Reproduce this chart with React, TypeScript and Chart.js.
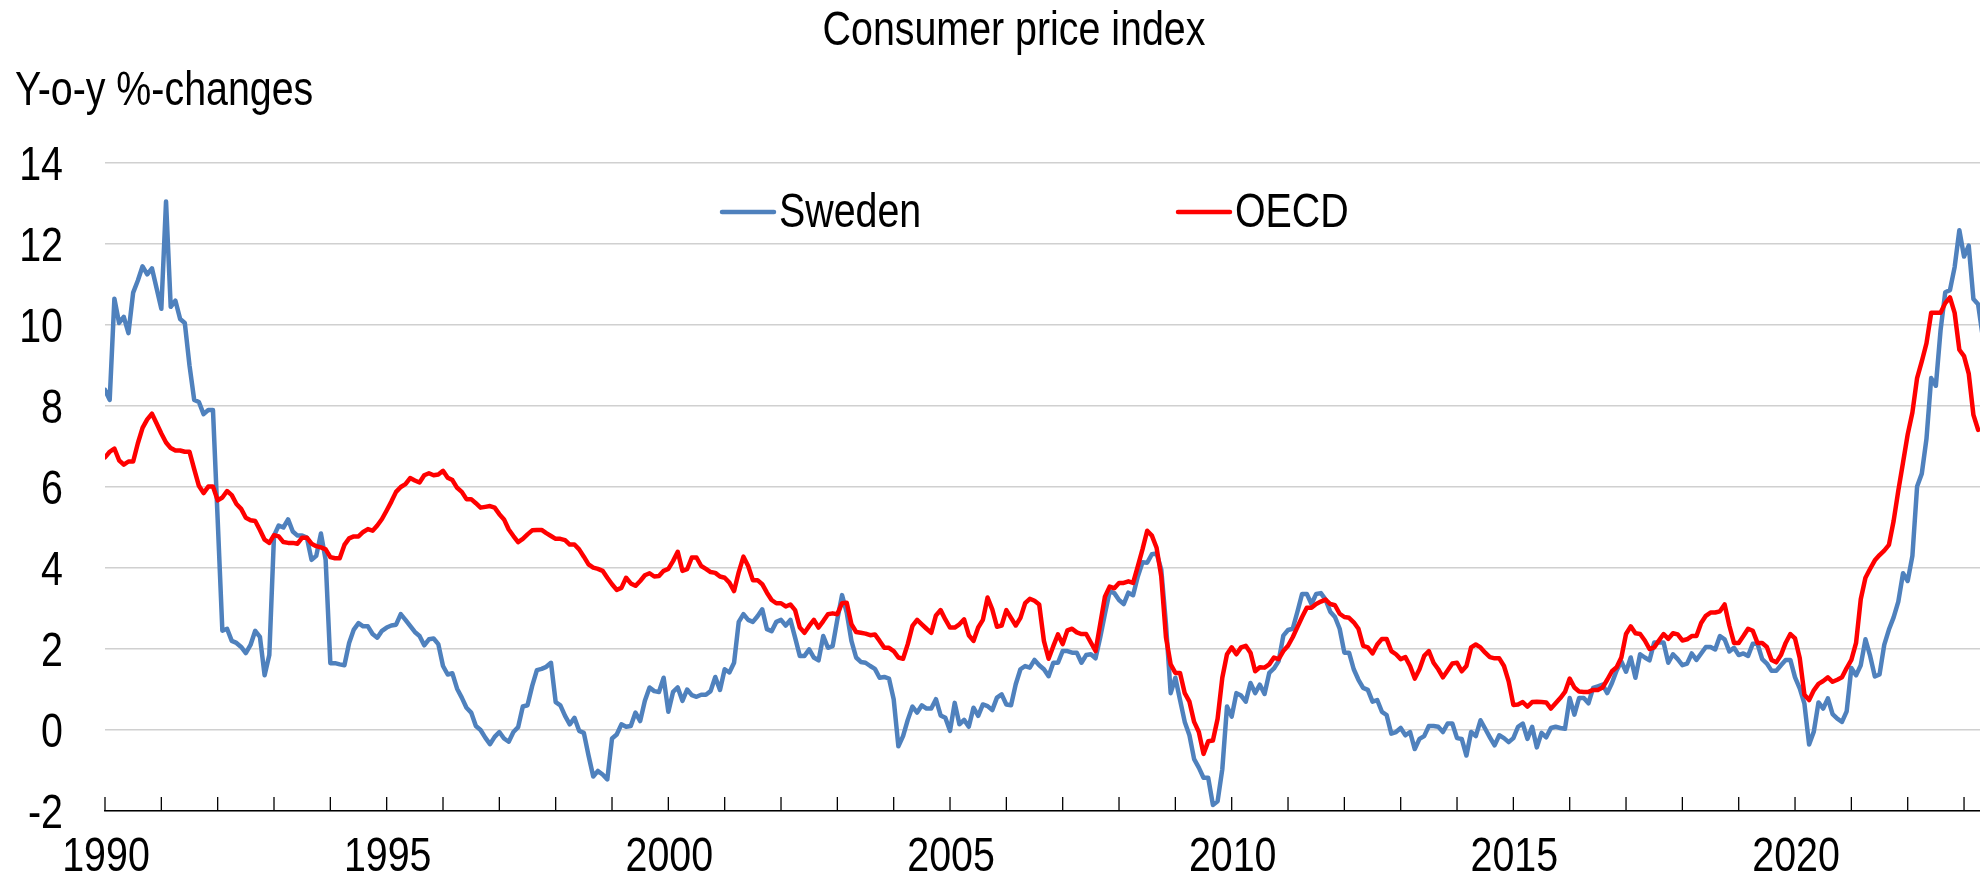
import { useEffect, useRef } from "react";
import { Chart, registerables } from "chart.js";

Chart.register(...registerables);

// ---- Data (monthly y-o-y % changes from Jan 1990) ----
const FIRST_YEAR = 1990;

const sweden1990s = [
  8.4, 8.15, 10.65, 10.05, 10.2, 9.8, 10.8, 11.1, 11.45, 11.25, 11.4, 10.9,
  10.4, 13.05, 10.45, 10.6, 10.15, 10.05, 9.0, 8.15, 8.1, 7.8, 7.9, 7.9,
  5.2, 2.45, 2.5, 2.2, 2.15, 2.05, 1.9, 2.1, 2.45, 2.3, 1.35, 1.85,
  4.8, 5.05, 5.0, 5.2, 4.9, 4.8, 4.8, 4.75, 4.2, 4.3, 4.85, 4.2,
  1.65, 1.65, 1.62, 1.6, 2.15, 2.48, 2.64, 2.56, 2.56, 2.37, 2.28, 2.45,
  2.53, 2.58, 2.6, 2.86, 2.72, 2.57, 2.42, 2.32, 2.09, 2.24, 2.26, 2.12,
  1.58, 1.37, 1.4, 1.02, 0.8, 0.55, 0.43, 0.1, 0.0, -0.19, -0.35, -0.17,
  -0.05, -0.21, -0.29, -0.05, 0.07, 0.58, 0.61, 1.09, 1.48, 1.51, 1.56, 1.66,
  0.69, 0.61, 0.35, 0.14, 0.3, -0.02, -0.07, -0.63, -1.15, -1.01, -1.1, -1.22,
  -0.21, -0.11, 0.14, 0.08, 0.1, 0.43, 0.22, 0.72, 1.05, 0.96, 0.94, 1.29,
];
const sweden2000s = [
  0.45, 0.94, 1.05, 0.72, 1.0, 0.86, 0.82, 0.87, 0.87, 0.96, 1.31, 0.99,
  1.5, 1.42, 1.66, 2.67, 2.86, 2.72, 2.67, 2.81, 2.98, 2.49, 2.44, 2.67,
  2.72, 2.58, 2.72, 2.28, 1.83, 1.83, 1.99, 1.79, 1.72, 2.32, 2.03, 2.07,
  2.73, 3.33, 2.9, 2.2, 1.79, 1.68, 1.66, 1.58, 1.51, 1.29, 1.31, 1.27,
  0.76, -0.4, -0.15, 0.25, 0.58, 0.43, 0.61, 0.53, 0.53, 0.76, 0.36, 0.3,
  -0.02, 0.67, 0.14, 0.25, 0.08, 0.55, 0.35, 0.63, 0.59, 0.49, 0.8, 0.88,
  0.63, 0.61, 1.13, 1.5, 1.58, 1.54, 1.73, 1.6, 1.5, 1.33, 1.66, 1.66,
  1.95, 1.95, 1.91, 1.91, 1.66, 1.85, 1.87, 1.77, 2.29, 2.87, 3.42, 3.38,
  3.21, 3.11, 3.39, 3.33, 3.79, 4.14, 4.13, 4.34, 4.36, 3.96, 2.62, 0.91,
  1.29, 0.74, 0.2, -0.13, -0.72, -0.93, -1.18, -1.18, -1.85, -1.76, -0.97, 0.58,
];
const sweden2010s = [
  0.33, 0.91, 0.85, 0.7, 1.16, 0.91, 1.12, 0.89, 1.41, 1.52, 1.7, 2.33,
  2.47, 2.5, 2.92, 3.36, 3.36, 3.11, 3.36, 3.38, 3.22, 2.92, 2.79, 2.5,
  1.91, 1.91, 1.5, 1.24, 1.04, 0.99, 0.7, 0.74, 0.45, 0.37, -0.09, -0.05,
  0.05, -0.13, -0.05, -0.47, -0.22, -0.15, 0.1, 0.1, 0.08, -0.05, 0.16, 0.16,
  -0.2, -0.22, -0.63, -0.05, -0.15, 0.24, 0.03, -0.18, -0.38, -0.13, -0.2, -0.3,
  -0.2, 0.08, 0.16, -0.22, 0.08, -0.43, -0.07, -0.18, 0.05, 0.08, 0.05, 0.03,
  0.79, 0.38, 0.79, 0.79, 0.66, 1.04, 1.08, 1.12, 0.91, 1.16, 1.47, 1.69,
  1.44, 1.79, 1.29, 1.87, 1.79, 1.72, 2.16, 2.16, 2.16, 1.66, 1.87, 1.75,
  1.6, 1.64, 1.89, 1.73, 1.89, 2.05, 2.05, 1.99, 2.32, 2.24, 1.94, 2.03,
  1.85, 1.89, 1.83, 2.13, 2.13, 1.75, 1.64, 1.46, 1.46, 1.6, 1.73, 1.73,
];
const sweden2020s = [
  1.3, 1.03, 0.65, -0.36, -0.04, 0.68, 0.53, 0.78, 0.39, 0.28, 0.2, 0.46,
  1.53, 1.35, 1.6, 2.24, 1.83, 1.32, 1.37, 2.1, 2.48, 2.78, 3.17, 3.87,
  3.68, 4.3, 6.01, 6.33, 7.19, 8.69, 8.5, 9.87, 10.81, 10.86, 11.43, 12.34,
  11.69, 11.96, 10.64, 10.51, 9.7,
];

const oecd1990s = [
  6.73, 6.87, 6.95, 6.66, 6.55, 6.63, 6.63, 7.08, 7.46, 7.67, 7.81, 7.57,
  7.32, 7.1, 6.96, 6.9, 6.9, 6.87, 6.87, 6.44, 6.03, 5.85, 6.01, 6.01,
  5.67, 5.74, 5.9, 5.8, 5.58, 5.46, 5.24, 5.18, 5.16, 4.94, 4.7, 4.62,
  4.81, 4.78, 4.64, 4.62, 4.62, 4.6, 4.75, 4.75, 4.6, 4.54, 4.51, 4.46,
  4.27, 4.24, 4.24, 4.57, 4.73, 4.78, 4.78, 4.89, 4.96, 4.92, 5.05, 5.21,
  5.42, 5.64, 5.88, 6.0, 6.07, 6.22, 6.16, 6.11, 6.29, 6.34, 6.29, 6.31,
  6.4, 6.23, 6.17, 5.98, 5.88, 5.7, 5.7, 5.6, 5.49, 5.51, 5.53, 5.49,
  5.33, 5.2, 4.95, 4.79, 4.64, 4.72, 4.83, 4.93, 4.94, 4.94, 4.86, 4.79,
  4.72, 4.72, 4.69, 4.58, 4.58, 4.46, 4.28, 4.09, 4.01, 3.98, 3.93, 3.76,
  3.6, 3.46, 3.51, 3.76, 3.62, 3.56, 3.68, 3.82, 3.87, 3.79, 3.8, 3.93,
];
const oecd2000s = [
  3.98, 4.17, 4.4, 3.93, 3.97, 4.26, 4.26, 4.05, 3.98, 3.9, 3.88, 3.79,
  3.76, 3.64, 3.43, 3.9, 4.28, 4.05, 3.7, 3.7, 3.6, 3.39, 3.21, 3.13,
  3.13, 3.05, 3.1, 2.96, 2.53, 2.4, 2.57, 2.72, 2.53, 2.69, 2.86, 2.88,
  2.86, 3.13, 3.14, 2.61, 2.42, 2.4, 2.38, 2.34, 2.36, 2.2, 2.03, 2.03,
  1.95, 1.79, 1.76, 2.12, 2.57, 2.72, 2.61, 2.5, 2.4, 2.83, 2.96, 2.73,
  2.53, 2.53, 2.61, 2.73, 2.34, 2.2, 2.53, 2.72, 3.27, 2.98, 2.55, 2.58,
  2.96, 2.77, 2.58, 2.77, 3.13, 3.24, 3.19, 3.1, 2.2, 1.76, 2.07, 2.36,
  2.12, 2.46, 2.5, 2.41, 2.37, 2.37, 2.16, 1.95, 2.62, 3.29, 3.54, 3.5,
  3.63, 3.63, 3.67, 3.63, 4.04, 4.46, 4.92, 4.8, 4.5, 3.79, 2.29, 1.62,
  1.41, 1.41, 0.91, 0.7, 0.2, -0.05, -0.59, -0.28, -0.26, 0.28, 1.29, 1.87,
];
const oecd2010s = [
  2.04, 1.87, 2.04, 2.08, 1.91, 1.45, 1.55, 1.54, 1.62, 1.79, 1.75, 1.95,
  2.08, 2.29, 2.54, 2.79, 3.02, 3.02, 3.11, 3.17, 3.22, 3.11, 3.08, 2.87,
  2.79, 2.77, 2.66, 2.5, 2.08, 2.04, 1.89, 2.11, 2.25, 2.25, 1.95, 1.87,
  1.75, 1.8, 1.58, 1.27, 1.5, 1.83, 1.95, 1.66, 1.5, 1.3, 1.47, 1.64,
  1.66, 1.45, 1.58, 2.04, 2.11, 2.04, 1.91, 1.8, 1.77, 1.77, 1.58, 1.2,
  0.62, 0.63, 0.69, 0.58, 0.69, 0.7, 0.69, 0.68, 0.53, 0.66, 0.79, 0.94,
  1.27, 1.05, 0.95, 0.94, 0.94, 0.99, 0.99, 1.05, 1.24, 1.45, 1.55, 1.79,
  2.37, 2.56, 2.39, 2.37, 2.21, 2.0, 2.04, 2.21, 2.37, 2.25, 2.39, 2.36,
  2.21, 2.24, 2.32, 2.32, 2.64, 2.82, 2.9, 2.9, 2.93, 3.1, 2.58, 2.15,
  2.15, 2.32, 2.5, 2.45, 2.15, 2.15, 2.05, 1.73, 1.67, 1.85, 2.15, 2.37,
];
const oecd2020s = [
  2.26, 1.78, 0.87, 0.74, 0.98, 1.14, 1.21, 1.3, 1.19, 1.24, 1.3, 1.53,
  1.73, 2.15, 3.23, 3.76, 3.98, 4.19, 4.32, 4.43, 4.57, 5.16, 5.91, 6.6,
  7.3, 7.84, 8.69, 9.1, 9.55, 10.3, 10.3, 10.3, 10.54, 10.68, 10.3, 9.39,
  9.23, 8.8, 7.78, 7.41,
];

const swedenValues = [...sweden1990s, ...sweden2000s, ...sweden2010s, ...sweden2020s];
const oecdValues = [...oecd1990s, ...oecd2000s, ...oecd2010s, ...oecd2020s];

const labelYears = [1990, 1995, 2000, 2005, 2010, 2015, 2020];
const tickYears = [
  1990, 1991, 1992, 1993, 1994, 1995, 1996, 1997, 1998, 1999, 2000, 2001,
  2002, 2003, 2004, 2005, 2006, 2007, 2008, 2009, 2010, 2011, 2012, 2013,
  2014, 2015, 2016, 2017, 2018, 2019, 2020, 2021, 2022, 2023,
];
const yTickValues = [-2, 0, 2, 4, 6, 8, 10, 12, 14];

const TITLE = "Consumer price index";
const Y_TITLE = "Y-o-y %-changes";
const SERIES_NAMES = ["Sweden", "OECD"];
const SERIES_COLORS = ["#4f81bd", "#ff0000"];

// Arial-metric font, horizontally condensed to imitate Arial Narrow
const FONT = "'Liberation Sans', Arial, sans-serif";
const FONT_SIZE = 48;
const NARROW = 0.82;
const W = 1980;
const H = 876;
const PLOT_TOP = 163;
const PLOT_BOTTOM = 811;
const PLOT_LEFT = 105;

const monthIndex = (yr: number) => (yr - FIRST_YEAR) * 12;

function narrowText(ctx: CanvasRenderingContext2D, text: string, x: number, y: number, align: CanvasTextAlign) {
  ctx.save();
  ctx.translate(x, y);
  ctx.scale(NARROW, 1);
  ctx.textAlign = align;
  ctx.fillText(text, 0, 0);
  ctx.restore();
}

const decorPlugin = {
  id: "decor",
  afterDraw(chart: any) {
    const { ctx, chartArea, scales } = chart;
    const xs = scales.x;
    const ys = scales.y;
    ctx.save();
    // inner tick marks on the x axis
    ctx.strokeStyle = "#000";
    ctx.lineWidth = 1.3;
    for (const yr of tickYears) {
      const px = xs.getPixelForValue(monthIndex(yr));
      if (px > chartArea.right + 1) continue;
      ctx.beginPath();
      ctx.moveTo(px, chartArea.bottom);
      ctx.lineTo(px, chartArea.bottom - 14);
      ctx.stroke();
    }
    ctx.fillStyle = "#000";
    ctx.font = `${FONT_SIZE}px ${FONT}`;
    ctx.textBaseline = "alphabetic";
    // y tick labels
    for (const v of yTickValues) {
      const py = ys.getPixelForValue(v);
      narrowText(ctx, String(v), 63, py + 17, "right");
    }
    // x tick labels
    for (const yr of labelYears) {
      const px = xs.getPixelForValue(monthIndex(yr));
      narrowText(ctx, String(yr), px + 1, 871, "center");
    }
    // titles
    narrowText(ctx, TITLE, 1014, 45, "center");
    narrowText(ctx, Y_TITLE, 15, 105, "left");
    // legend
    const legendY = 212;
    const items = [
      { x: 722, name: SERIES_NAMES[0], color: SERIES_COLORS[0] },
      { x: 1178, name: SERIES_NAMES[1], color: SERIES_COLORS[1] },
    ];
    ctx.textBaseline = "middle";
    for (const it of items) {
      ctx.strokeStyle = it.color;
      ctx.lineWidth = 4.5;
      ctx.lineCap = "round";
      ctx.beginPath();
      ctx.moveTo(it.x, legendY);
      ctx.lineTo(it.x + 52, legendY);
      ctx.stroke();
      ctx.fillStyle = "#000";
      narrowText(ctx, it.name, it.x + 57, legendY + 2, "left");
    }
    ctx.restore();
  },
};

export default function App() {
  const canvasRef = useRef<HTMLCanvasElement | null>(null);

  useEffect(() => {
    document.body.style.margin = "0";
    const canvas = canvasRef.current;
    if (!canvas) return;
    const toPoints = (vals: number[]) => vals.map((v, i) => ({ x: i, y: v }));
    const chart = new Chart(canvas, {
      type: "line",
      data: {
        datasets: [
          {
            label: SERIES_NAMES[0],
            data: toPoints(swedenValues),
            borderColor: SERIES_COLORS[0],
            backgroundColor: SERIES_COLORS[0],
            borderWidth: 4.5,
            pointRadius: 0,
            tension: 0,
            borderJoinStyle: "round",
            borderCapStyle: "round",
            order: 1,
          },
          {
            label: SERIES_NAMES[1],
            data: toPoints(oecdValues),
            borderColor: SERIES_COLORS[1],
            backgroundColor: SERIES_COLORS[1],
            borderWidth: 4.5,
            pointRadius: 0,
            tension: 0,
            borderJoinStyle: "round",
            borderCapStyle: "round",
            order: 0,
          },
        ],
      },
      options: {
        responsive: false,
        animation: false,
        devicePixelRatio: 1,
        layout: { padding: { top: PLOT_TOP, left: 0, right: 0, bottom: 0 } },
        plugins: {
          legend: { display: false },
          title: { display: false },
          tooltip: { enabled: false },
        },
        scales: {
          x: {
            type: "linear",
            min: 0,
            max: 399.4,
            afterFit: (s: any) => {
              s.height = H - PLOT_BOTTOM;
            },
            afterBuildTicks: (s: any) => {
              s.ticks = labelYears.map((y) => ({ value: monthIndex(y) }));
            },
            ticks: { display: false, autoSkip: false, maxRotation: 0 },
            grid: { display: false, drawTicks: false },
            border: { display: true, color: "#000", width: 1.5 },
          },
          y: {
            min: -2,
            max: 14,
            afterFit: (s: any) => {
              s.width = PLOT_LEFT;
            },
            afterBuildTicks: (s: any) => {
              s.ticks = yTickValues.map((v) => ({ value: v }));
            },
            ticks: { display: false },
            grid: { color: "#d0d0d0", lineWidth: 1.5, drawTicks: false },
            border: { display: false },
          },
        },
      },
      plugins: [decorPlugin],
    } as any);
    return () => chart.destroy();
  }, []);

  return (
    <div style={{ width: W, height: H, background: "#fff" }}>
      <canvas ref={canvasRef} width={W} height={H} style={{ display: "block" }} />
    </div>
  );
}
